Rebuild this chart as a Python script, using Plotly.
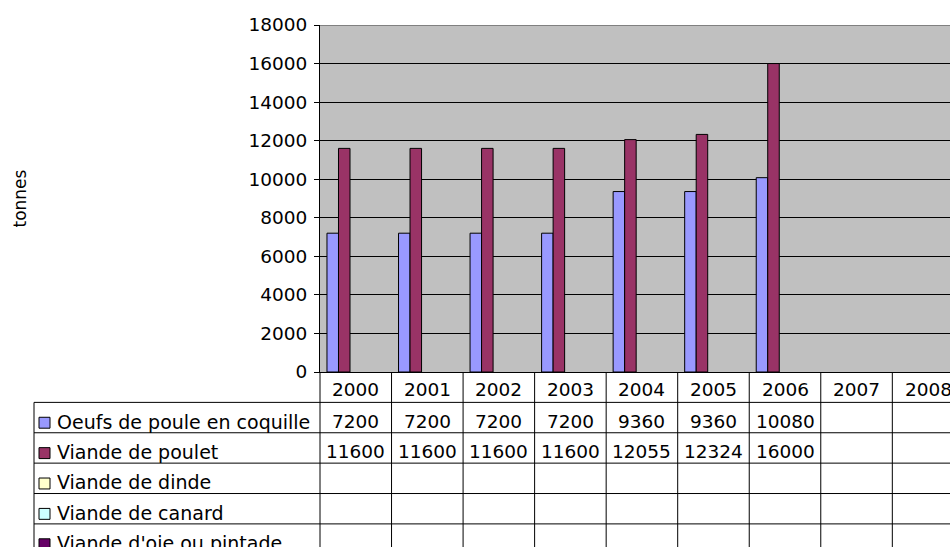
import plotly.graph_objects as go

# Production data (tonnes) by year
years = ["2000", "2001", "2002", "2003", "2004", "2005", "2006", "2007", "2008"]
oeufs = [7200, 7200, 7200, 7200, 9360, 9360, 10080, None, None]
poulet = [11600, 11600, 11600, 11600, 12055, 12324, 16000, None, None]
dinde = [None] * 9
canard = [None] * 9
oie = [None] * 9

series_names = [
    "Oeufs de poule en coquille",
    "Viande de poulet",
    "Viande de dinde",
    "Viande de canard",
    "Viande d'oie ou pintade",
]
series_values = [oeufs, poulet, dinde, canard, oie]
series_colors = ["#9999FF", "#993366", "#FFFFCC", "#CCFFFF", "#660066"]

y_ticks = list(range(0, 18001, 2000))

FONT = "DejaVu Sans"
NUM_SIZE = 18.5
LABEL_SIZE = 19
W, H = 950, 547
PLOT_LEFT = 320          # px, left edge of the plotting area
PLOT_TOP = 25            # px
AXIS_BOTTOM = 372        # px, y = 0 line
CAT_W = 71.54            # px per category
ROW_H = 30.38            # px per table row
TABLE_ROWS = (H - AXIS_BOTTOM) / ROW_H   # visible rows in the data table
LEGEND_LEFT = 34         # px

fig = go.Figure()
for name, vals, col in zip(series_names, series_values, series_colors):
    fig.add_trace(go.Bar(
        x=years, y=vals, name=name,
        marker=dict(color=col, line=dict(color="black", width=1)),
        showlegend=False, hoverinfo="x+y+name",
    ))

x_max = (W - PLOT_LEFT) / CAT_W - 0.5

fig.update_layout(
    width=W, height=H, autosize=False,
    margin=dict(l=0, r=0, t=0, b=0, autoexpand=False),
    paper_bgcolor="white", plot_bgcolor="#C0C0C0",
    barmode="group", bargap=0.195, bargroupgap=0,
    font=dict(family=FONT, size=18, color="black"),
    xaxis=dict(
        type="category", domain=[PLOT_LEFT / W, 1], range=[-0.5, x_max],
        showticklabels=False, ticks="", showgrid=False, zeroline=False,
        showline=True, linecolor="black", linewidth=1, automargin=False,
    ),
    yaxis=dict(
        domain=[(H - AXIS_BOTTOM) / H, (H - PLOT_TOP) / H],
        range=[0, 18000], tickvals=y_ticks, ticktext=[str(v) for v in y_ticks],
        showgrid=True, gridcolor="black", gridwidth=1, zeroline=False,
        showline=True, linecolor="black", linewidth=1,
        ticks="outside", ticklen=5, tickcolor="black", tickwidth=1,
        ticklabelstandoff=3, automargin=False,
        tickfont=dict(family=FONT, size=NUM_SIZE, color="black"),
    ),
    yaxis2=dict(
        domain=[0, (H - AXIS_BOTTOM) / H], range=[TABLE_ROWS, 0],
        anchor="x", visible=False, showgrid=False, zeroline=False, automargin=False,
    ),
)

shapes = []
# white background for the data table area
shapes.append(dict(type="rect", xref="x domain", yref="y2 domain", x0=0, x1=1, y0=0, y1=1,
                   fillcolor="white", line=dict(width=0), layer="below"))
# grey top border of the plotting area
shapes.append(dict(type="line", xref="paper", yref="y", x0=PLOT_LEFT / W, x1=1,
                   y0=18000, y1=18000, line=dict(color="#808080", width=2)))

# data table: vertical separators between years
for i in range(len(years)):
    shapes.append(dict(type="line", xref="x", yref="y2", x0=i + 0.5, x1=i + 0.5,
                       y0=0, y1=TABLE_ROWS, line=dict(color="black", width=1)))
# axis line continued through the table
shapes.append(dict(type="line", xref="paper", yref="y2", x0=PLOT_LEFT / W, x1=PLOT_LEFT / W,
                   y0=0, y1=TABLE_ROWS, line=dict(color="black", width=1)))
# legend column left border
shapes.append(dict(type="line", xref="paper", yref="y2", x0=LEGEND_LEFT / W, x1=LEGEND_LEFT / W,
                   y0=1, y1=TABLE_ROWS, line=dict(color="black", width=1)))
# horizontal row lines
for r in range(1, len(series_names) + 1):
    shapes.append(dict(type="line", xref="paper", yref="y2", x0=LEGEND_LEFT / W, x1=1,
                       y0=r, y1=r, line=dict(color="black", width=1)))

annotations = []
# year header row
for i, yr in enumerate(years):
    annotations.append(dict(xref="x", yref="y2", x=i, y=0.5, text=yr, showarrow=False,
                            xanchor="center", yanchor="middle", yshift=-2,
                            font=dict(family=FONT, size=NUM_SIZE, color="black")))
# series rows: legend key, label and values
for r, (name, vals, col) in enumerate(zip(series_names, series_values, series_colors), start=1):
    yc = r + 0.5
    shapes.append(dict(type="rect", xref="paper", yref="y2",
                       x0=39 / W, x1=50 / W, y0=yc - 0.18 + 0.17, y1=yc + 0.18 + 0.17,
                       fillcolor=col, line=dict(color="black", width=1)))
    annotations.append(dict(xref="paper", yref="y2", x=55 / W, y=yc, text=name,
                            showarrow=False, xanchor="left", yanchor="middle", yshift=-4,
                            font=dict(family=FONT, size=LABEL_SIZE, color="black")))
    for i, v in enumerate(vals):
        if v is None:
            continue
        annotations.append(dict(xref="x", yref="y2", x=i, y=yc, text=str(v),
                                showarrow=False, xanchor="center", yanchor="middle", yshift=-4,
                                font=dict(family=FONT, size=NUM_SIZE, color="black")))

# y-axis title, centred on the plotting area
annotations.append(dict(xref="paper", yref="paper", x=19 / W,
                        y=(H - (PLOT_TOP + AXIS_BOTTOM) / 2) / H,
                        text="tonnes", textangle=-90, showarrow=False,
                        xanchor="center", yanchor="middle",
                        font=dict(family=FONT, size=17, color="black")))

fig.update_layout(shapes=shapes, annotations=annotations)
fig.write_html("out.html")
